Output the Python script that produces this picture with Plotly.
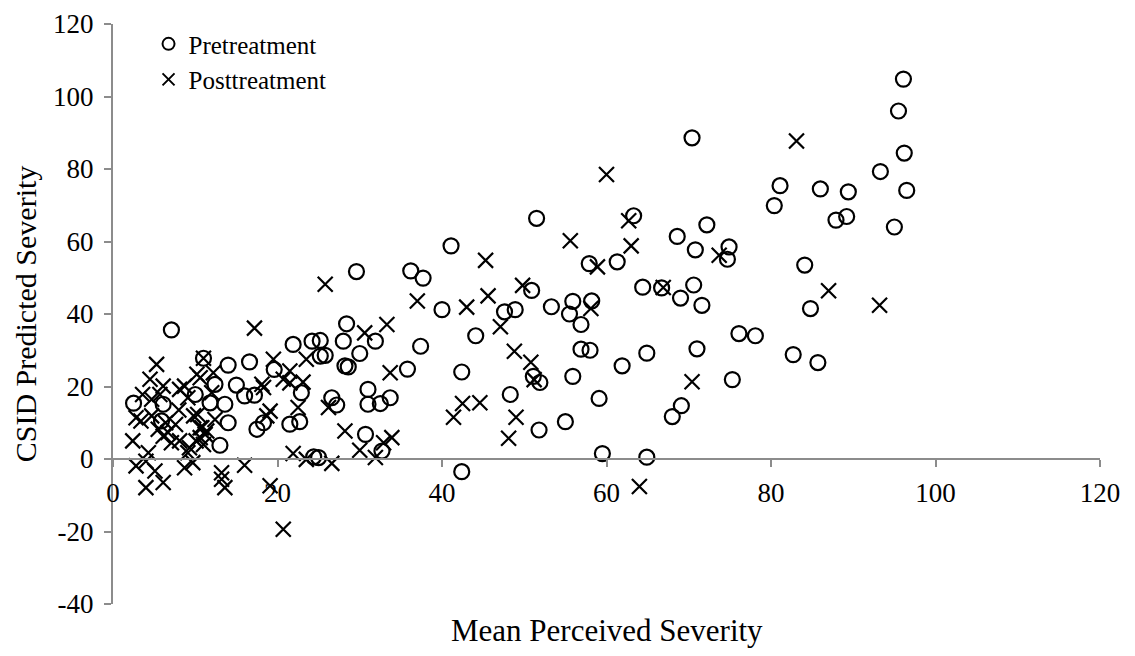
import plotly.graph_objects as go

# ---------------- data ----------------
pre_x = [2.5, 6.1, 5.9, 7.1, 10.0, 11.0, 12.4, 11.8, 13.6, 14.0, 13.0, 14.0, 16.6, 15.0,
         16.0, 17.2, 19.6, 18.3, 17.5, 21.5, 22.7, 21.9, 22.9, 24.2, 25.2, 25.2, 25.8, 28.0,
         28.4, 29.6, 30.0, 31.9, 28.2, 28.6, 31.0, 26.6, 27.2, 31.0, 32.5, 33.7, 30.7, 25.0,
         24.4, 32.7, 36.2, 37.7, 41.1, 40.0, 37.4, 35.8, 44.1, 42.4, 47.6, 48.9, 48.3, 42.4,
         51.5, 50.9, 53.3, 55.9, 55.5, 58.2, 56.9, 56.9, 58.0, 51.1, 51.9, 55.9, 51.8, 55.0,
         59.1, 59.5, 57.9, 61.3, 61.9, 63.3, 64.4, 64.9, 64.9, 66.7, 68.6, 70.8, 72.2, 69.0,
         70.6, 71.6, 71.0, 69.1, 68.0, 70.4, 74.9, 74.7, 76.1, 78.1, 75.3, 96.1, 95.5, 96.2,
         93.3, 81.1, 86.0, 89.4, 96.5, 80.4, 87.9, 89.2, 95.0, 84.1, 84.8, 82.7, 85.7]
pre_y = [15.4, 15.1, 10.5, 35.6, 17.8, 27.8, 20.6, 15.5, 15.1, 10.0, 3.8, 25.9, 26.8, 20.4,
         17.4, 17.6, 24.7, 10.0, 8.2, 9.6, 10.3, 31.6, 18.3, 32.5, 32.7, 28.4, 28.6, 32.5,
         37.3, 51.7, 29.1, 32.5, 25.7, 25.4, 19.2, 16.9, 14.9, 15.1, 15.3, 16.9, 6.8, 0.4,
         0.6, 2.2, 51.9, 49.9, 58.8, 41.2, 31.1, 24.8, 34.0, 24.0, 40.6, 41.2, 17.8, -3.5,
         66.4, 46.5, 42.0, 43.5, 40.0, 43.6, 37.1, 30.3, 30.0, 22.8, 21.1, 22.8, 8.0, 10.3,
         16.7, 1.5, 53.9, 54.4, 25.7, 67.1, 47.4, 29.2, 0.5, 47.2, 61.4, 57.7, 64.6, 44.4,
         48.0, 42.4, 30.4, 14.7, 11.7, 88.6, 58.5, 55.1, 34.6, 34.0, 21.9, 104.8, 96.0, 84.4,
         79.3, 75.4, 74.5, 73.7, 74.1, 69.9, 65.9, 66.9, 64.0, 53.5, 41.5, 28.8, 26.6]

post_x = [5.3, 17.2, 25.8, 11.0, 19.5, 21.5, 10.2, 12.2, 4.5, 6.1, 3.6, 4.7, 5.7, 8.1,
          8.7, 9.1, 10.3, 2.8, 3.4, 4.7, 10.6, 12.0, 12.4, 10.8, 11.2, 11.0, 18.1, 18.3,
          20.7, 19.1, 18.7, 22.5, 23.1, 21.5, 23.5, 2.4, 4.3, 8.1, 9.3, 10.1, 9.1, 2.8,
          4.0, 5.1, 4.0, 6.1, 8.7, 9.7, 13.2, 13.2, 13.6, 16.0, 19.1, 20.7, 21.9, 23.5,
          26.6, 26.2, 28.2, 30.0, 31.9, 32.9, 33.9, 30.6, 33.3, 33.7, 5.5, 6.1, 6.7, 7.1,
          9.8, 10.6, 11.4, 10.6, 7.6, 6.4, 8.0, 37.0, 45.3, 45.6, 43.0, 47.1, 48.8, 50.8,
          49.8, 51.2, 42.5, 44.6, 41.4, 49.0, 48.1, 55.6, 58.9, 58.1, 60.0, 62.7, 63.0, 64.0,
          66.9, 70.4, 73.7, 83.1, 87.0, 93.2]
post_y = [26.1, 36.1, 48.2, 27.8, 27.5, 24.3, 23.4, 23.8, 22.0, 20.1, 17.8, 16.5, 17.8, 19.2,
          20.1, 16.9, 12.3, 11.4, 10.5, 11.9, 22.4, 18.3, 10.9, 8.6, 6.8, 4.0, 20.6, 19.7,
          22.0, 13.2, 11.9, 14.2, 21.2, 21.0, 27.5, 5.0, 1.7, 5.0, 3.1, 5.0, 1.7, -1.9,
          -0.6, -3.3, -7.9, -6.5, -2.4, -1.0, -3.8, -5.6, -7.9, -1.7, -7.4, -19.4, 1.5, -0.1,
          -1.2, 14.2, 7.7, 2.4, 0.4, 4.5, 5.9, 34.8, 37.1, 23.8, 8.2, 6.3, 7.3, 4.5,
          11.9, 8.6, 7.7, 5.9, 9.5, 10.0, 13.5, 43.6, 54.8, 45.0, 41.9, 36.5, 29.7, 26.7,
          47.9, 21.9, 15.3, 15.5, 11.5, 11.5, 5.7, 60.2, 53.0, 41.5, 78.5, 65.7, 58.8, -7.6,
          47.3, 21.3, 56.2, 87.7, 46.4, 42.4]

series_names = ["Pretreatment", "Posttreatment"]
x_tick_vals = [0, 20, 40, 60, 80, 100, 120]
y_tick_vals = [-40, -20, 0, 20, 40, 60, 80, 100, 120]
x_title = "Mean Perceived Severity"
y_title = "CSID Predicted Severity"

# ---------------- styling ----------------
FONT = "Liberation Serif, Times New Roman, serif"
AXIS_GRAY = "#8c8c8c"
x_range = [x_tick_vals[0], x_tick_vals[-1]]
y_range = [y_tick_vals[0], y_tick_vals[-1]]
# fraction of the y range where y = 0 lies (x axis crosses there)
x_axis_pos = (0 - y_range[0]) / (y_range[1] - y_range[0])

fig = go.Figure()
fig.add_trace(go.Scatter(
    x=pre_x, y=pre_y, mode="markers", name=series_names[0],
    marker=dict(symbol="circle-open", size=15, color="black",
                line=dict(width=2.2, color="black")),
))
fig.add_trace(go.Scatter(
    x=post_x, y=post_y, mode="markers", name=series_names[1],
    marker=dict(symbol="x-thin-open", size=15, color="black",
                line=dict(width=2.2, color="black")),
))

# the page body adds ~8px of offset, so the figure is sized to fit the window
fig.update_layout(
    width=1127, height=648,
    margin=dict(l=105, r=35, t=16, b=52, autoexpand=False),
    paper_bgcolor="white", plot_bgcolor="white",
    font=dict(family=FONT, size=26, color="black"),
    showlegend=True,
    legend=dict(x=0.036, y=1.005, xanchor="left", yanchor="top",
                bgcolor="rgba(0,0,0,0)", font=dict(family=FONT, size=25, color="black"),
                tracegroupgap=0, itemsizing="constant"),
    xaxis=dict(range=x_range, tickvals=x_tick_vals, ticktext=[str(v) for v in x_tick_vals],
               showgrid=False, zeroline=False, showline=True, linecolor=AXIS_GRAY, linewidth=2,
               ticks="outside", ticklen=7, tickwidth=2, tickcolor=AXIS_GRAY,
               tickfont=dict(family=FONT, size=27, color="black"),
               ticklabelstandoff=3, automargin=False,
               anchor="free", position=x_axis_pos),
    yaxis=dict(range=y_range, tickvals=y_tick_vals, ticktext=[str(v) for v in y_tick_vals],
               domain=[0, 1], automargin=False,
               showgrid=False, zeroline=False, showline=True, linecolor=AXIS_GRAY, linewidth=2,
               ticks="outside", ticklen=7, tickwidth=2, tickcolor=AXIS_GRAY,
               tickfont=dict(family=FONT, size=27, color="black"),
               ticklabelstandoff=5,
               title=dict(text=y_title, font=dict(family=FONT, size=30, color="black"), standoff=8)),
    annotations=[dict(text=x_title, xref="paper", yref="paper", x=0.5, y=-0.045,
                      xanchor="center", yanchor="middle", showarrow=False,
                      font=dict(family=FONT, size=31, color="black"))],
)

fig.write_html("out.html")
